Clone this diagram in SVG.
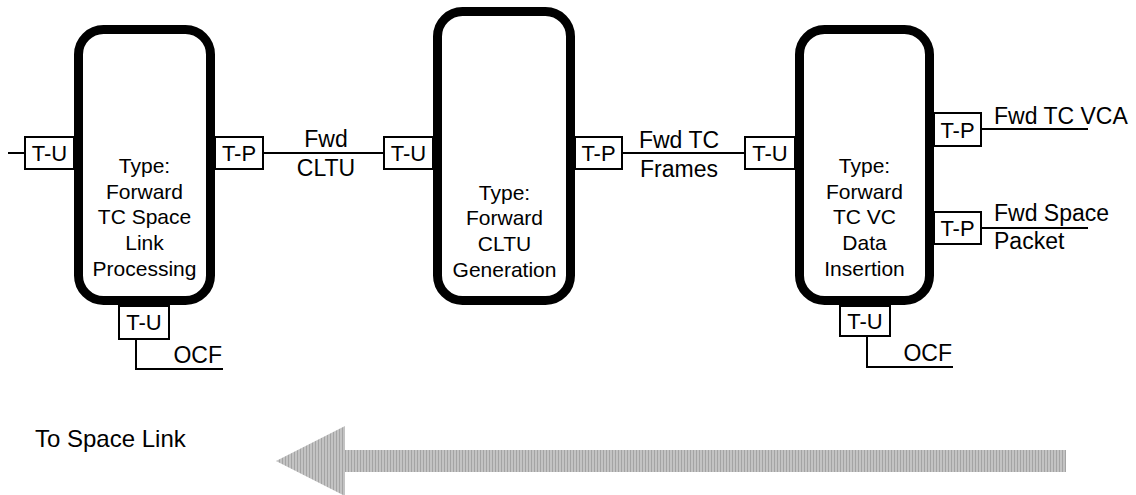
<svg xmlns="http://www.w3.org/2000/svg" width="1136" height="495" viewBox="0 0 1136 495">
<defs>
<style>
.node{fill:#fff;stroke:#000;stroke-width:9}
.port{fill:#fff;stroke:#000;stroke-width:2}
.wire{fill:none;stroke:#000;stroke-width:2}
text{font-family:"Liberation Sans",Arial,sans-serif;fill:#000}
.nt{font-size:21px;text-anchor:middle}
.pt{font-size:22px;text-anchor:middle}
.lt{font-size:23px}
.ltc{font-size:23px;text-anchor:middle}
</style>
<pattern id="stripes" width="3" height="10" patternUnits="userSpaceOnUse">
<rect width="3" height="10" fill="#c3c3c3"/>
<rect width="1" height="10" fill="#a4a4a4"/>
</pattern>
</defs>
<rect width="1136" height="495" fill="#fff"/>

<g id="connectors">
<line class="wire" x1="8" y1="153" x2="25" y2="153"/>
<line class="wire" x1="263" y1="153" x2="384" y2="153"/>
<line class="wire" x1="622" y1="153" x2="745" y2="153"/>
<line class="wire" x1="981" y1="129" x2="1088" y2="129"/>
<line class="wire" x1="981" y1="228" x2="1088" y2="228"/>
<polyline class="wire" points="136,339 136,369 223,369"/>
<polyline class="wire" points="867,336 867,367 953,367"/>
<text class="ltc" x="326" y="147">Fwd</text>
<text class="ltc" x="326" y="176">CLTU</text>
<text class="ltc" x="679" y="148">Fwd TC</text>
<text class="ltc" x="679" y="177">Frames</text>
<text class="lt" x="994" y="124">Fwd TC VCA</text>
<text class="lt" x="994" y="221">Fwd Space</text>
<text class="lt" x="994" y="249">Packet</text>
<text class="lt" x="222" y="363" text-anchor="end">OCF</text>
<text class="lt" x="952" y="361" text-anchor="end">OCF</text>
</g>

<g id="node-tc-space-link">
<rect class="node" x="78.5" y="29.5" width="132" height="271" rx="25"/>
<rect class="port" x="25" y="137" width="49" height="32"/>
<text class="pt" x="49.5" y="161">T-U</text>
<rect class="port" x="215" y="137" width="48" height="32"/>
<text class="pt" x="239" y="161">T-P</text>
<rect class="port" x="119" y="306" width="50" height="33"/>
<text class="pt" x="144" y="330">T-U</text>
<text class="nt" x="144.5" y="173">Type:</text>
<text class="nt" x="144.5" y="199">Forward</text>
<text class="nt" x="144.5" y="224">TC Space</text>
<text class="nt" x="144.5" y="250">Link</text>
<text class="nt" x="144.5" y="276">Processing</text>
</g>

<g id="node-cltu-generation">
<rect class="node" x="437.5" y="11.5" width="133" height="289" rx="25"/>
<rect class="port" x="384" y="137" width="49" height="32"/>
<text class="pt" x="408.5" y="161">T-U</text>
<rect class="port" x="575" y="137" width="47" height="32"/>
<text class="pt" x="598.5" y="161">T-P</text>
<text class="nt" x="504.5" y="200">Type:</text>
<text class="nt" x="504.5" y="225">Forward</text>
<text class="nt" x="504.5" y="251">CLTU</text>
<text class="nt" x="504.5" y="277">Generation</text>
</g>

<g id="node-vc-data-insertion">
<rect class="node" x="799.5" y="29.5" width="130" height="271" rx="25"/>
<rect class="port" x="745" y="137" width="50" height="32"/>
<text class="pt" x="770" y="161">T-U</text>
<rect class="port" x="934" y="113" width="47" height="33"/>
<text class="pt" x="957.5" y="137.5">T-P</text>
<rect class="port" x="934" y="212" width="47" height="32"/>
<text class="pt" x="957.5" y="236">T-P</text>
<rect class="port" x="840" y="306" width="50" height="30"/>
<text class="pt" x="865" y="329">T-U</text>
<text class="nt" x="864.5" y="173">Type:</text>
<text class="nt" x="864.5" y="199">Forward</text>
<text class="nt" x="864.5" y="224">TC VC</text>
<text class="nt" x="864.5" y="250">Data</text>
<text class="nt" x="864.5" y="276">Insertion</text>
</g>

<g id="direction">
<text x="35" y="447" style="font-size:24px">To Space Link</text>
<polygon points="276,461 345,426 345,450 1066,450 1066,472 345,472 345,496" fill="url(#stripes)"/>
</g>
</svg>
